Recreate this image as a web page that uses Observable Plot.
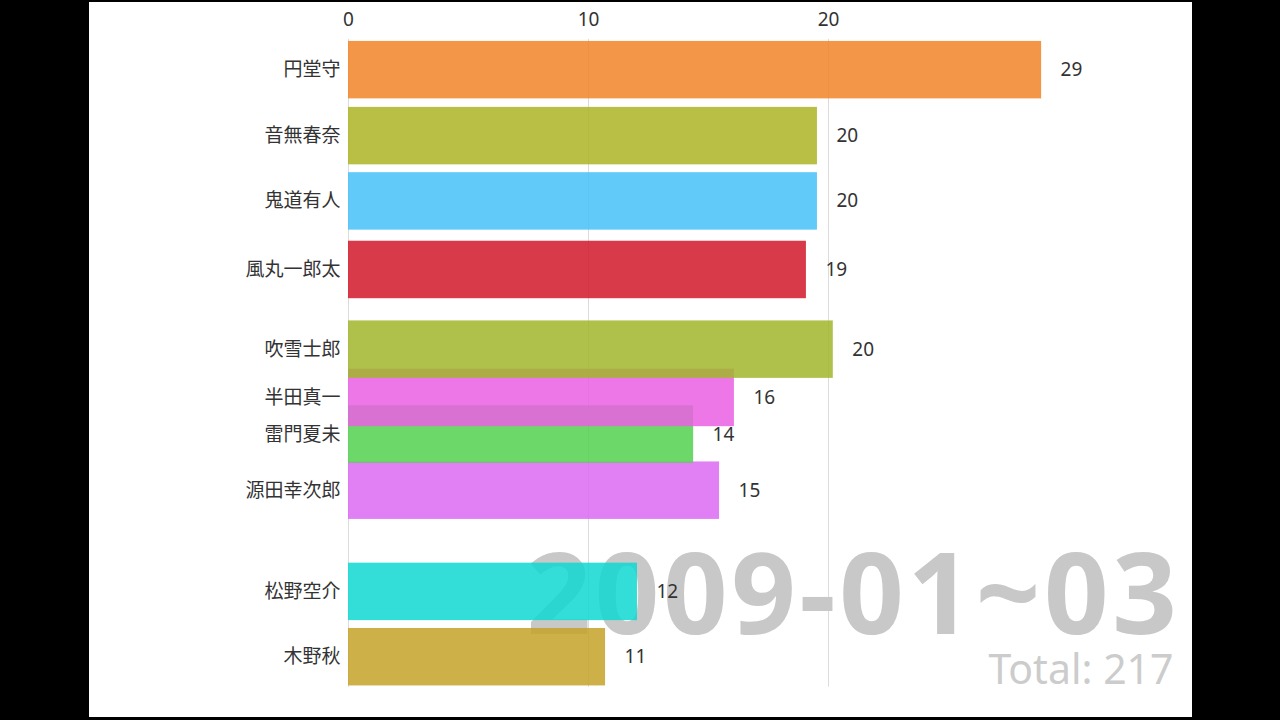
<!DOCTYPE html>
<html><head><meta charset="utf-8">
<script src="https://cdn.jsdelivr.net/npm/d3@7"></script>
<script src="https://cdn.jsdelivr.net/npm/@observablehq/plot@0.6"></script>
<style>
html,body{margin:0;padding:0;background:#000;width:1280px;height:720px;overflow:hidden}
#panel{position:absolute;left:89px;top:2px;width:1103px;height:715px;background:#fff}
.date-label text{letter-spacing:3.6px}
</style></head><body><div id="panel"></div>
<script>
const names = ["円堂守","音無春奈","鬼道有人","風丸一郎太","吹雪士郎","半田真一","雷門夏未","源田幸次郎","松野空介","木野秋"];
const barValues = [28.88, 19.54, 19.54, 19.08, 20.2, 16.08, 14.38, 15.46, 12.04, 10.71];
const shownValues = [29, 20, 20, 19, 20, 16, 14, 15, 12, 11];
const ranks = [0, 1.01, 2.01, 3.06, 4.28, 5.02, 5.58, 6.44, 7.99, 8.99];
const colors = ["#f18427","#adb424","#46c1f7","#d11729","#a1b62a","#eb5fe4","#53d150","#dc68f3","#0fd7d1","#c5a228"];
const xTicks = [0, 10, 20];
const dateLabel = "2009-01~03";
const totalLabel = "Total: 217";

const rows = names.map((n, i) => ({name: n, len: barValues[i], shown: shownValues[i], rank: ranks[i], color: colors[i]}))
  .sort((a, b) => b.rank - a.rank);
const halfBar = 0.44;

const chart = Plot.plot({
  width: 1103, height: 715,
  marginLeft: 259, marginRight: 4, marginTop: 35, marginBottom: 27,
  style: {background: "transparent", fontFamily: "'Noto Sans','Noto Sans CJK JP',sans-serif"},
  x: {domain: [0, 35], axis: null},
  y: {domain: [-0.5, 9.5], reverse: true, axis: null},
  color: {type: "identity"},
  marks: [
    Plot.ruleX(xTicks, {y1: -0.47, y2: 9.45, stroke: "#dcdcdc", strokeWidth: 1}),
    Plot.text([dateLabel], {frameAnchor: "bottom-right", text: d => d, textAnchor: "end", lineAnchor: "bottom",
      dx: -8, dy: -57, fontSize: 113, fontWeight: "bold", fill: "#c8c8c8", className: "date-label", fontFamily: "'Noto Sans',sans-serif"}),
    Plot.text([totalLabel], {frameAnchor: "bottom-right", text: d => d, textAnchor: "end", lineAnchor: "bottom",
      dx: -15, dy: -7, fontSize: 41, fill: "#cccccc", fontFamily: "'Noto Sans',sans-serif"}),
    Plot.rectX(rows, {x1: 0, x2: "len", y1: d => d.rank - halfBar, y2: d => d.rank + halfBar, fill: "color", fillOpacity: 0.85}),
    Plot.text(rows, {x: "len", y: "rank", text: d => String(d.shown), dx: 19, textAnchor: "start", fontSize: 19, fill: "#333"}),
    Plot.text(rows, {x: 0, y: "rank", text: "name", dx: -8, textAnchor: "end", fontSize: 19, fill: "#333", fontFamily: "'Noto Sans CJK JP',sans-serif"}),
    Plot.axisX({anchor: "top", ticks: xTicks, tickSize: 0, tickPadding: 12, fontSize: 19, color: "#333", label: null, tickFormat: d => String(d)})
  ]
});
document.getElementById("panel").appendChild(chart);
</script></body></html>
